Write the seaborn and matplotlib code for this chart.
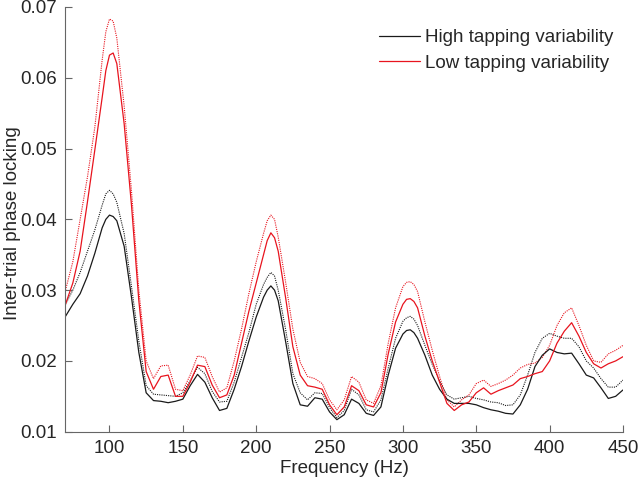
import numpy as np
import pandas as pd
import matplotlib
matplotlib.use("Agg")
import matplotlib.pyplot as plt
import seaborn as sns

freq = [70, 75, 80, 85, 90, 95, 97.5, 100, 102.5, 105, 110, 115,
        120, 125, 130, 135, 140, 145, 150, 155, 160, 165,
        170, 175, 180, 185, 190, 195, 200, 205, 207.5, 210, 212.5, 215,
        220, 225, 230, 235, 240, 245, 250, 255, 260, 265,
        270, 275, 280, 285, 290, 295, 300, 302.5, 305, 307.5, 310, 315,
        320, 325, 330, 335, 340, 345, 350, 355, 360, 365,
        370, 375, 380, 385, 390, 395, 400, 405, 410, 415,
        420, 425, 430, 435, 440, 445, 450]

high_solid = [0.0263, 0.0280, 0.0295, 0.0320, 0.0352, 0.0388, 0.0400, 0.0406, 0.0404, 0.0398, 0.0362, 0.0290,
              0.0212, 0.0155, 0.0144, 0.0143, 0.0141, 0.0143, 0.0146, 0.0165, 0.0181, 0.0170,
              0.0148, 0.0130, 0.0133, 0.0160, 0.0192, 0.0228, 0.0262, 0.0290, 0.0300, 0.0306, 0.0300, 0.0285,
              0.0228, 0.0168, 0.0138, 0.0136, 0.0148, 0.0146, 0.0128, 0.0117, 0.0124, 0.0146,
              0.0140, 0.0126, 0.0123, 0.0135, 0.0180, 0.0218, 0.0238, 0.0243, 0.0244, 0.0240, 0.0232, 0.0208,
              0.0180, 0.0160, 0.0146, 0.0140, 0.0140, 0.0140, 0.0138, 0.0134, 0.0131, 0.0129,
              0.0126, 0.0125, 0.0138, 0.0160, 0.0192, 0.0208, 0.0217, 0.0212, 0.0210, 0.0211,
              0.0196, 0.0180, 0.0176, 0.0162, 0.0147, 0.0150, 0.0159]

high_dotted = [0.0280, 0.0300, 0.0325, 0.0355, 0.0385, 0.0420, 0.0436, 0.0441, 0.0436, 0.0424, 0.0380, 0.0305,
               0.0228, 0.0165, 0.0153, 0.0152, 0.0151, 0.0150, 0.0155, 0.0172, 0.0191, 0.0182,
               0.0157, 0.0142, 0.0143, 0.0170, 0.0205, 0.0240, 0.0280, 0.0308, 0.0318, 0.0325, 0.0320, 0.0300,
               0.0245, 0.0182, 0.0155, 0.0145, 0.0155, 0.0154, 0.0134, 0.0120, 0.0130, 0.0160,
               0.0152, 0.0131, 0.0128, 0.0145, 0.0190, 0.0232, 0.0256, 0.0261, 0.0263, 0.0259, 0.0250, 0.0222,
               0.0195, 0.0172, 0.0152, 0.0146, 0.0148, 0.0150, 0.0147, 0.0145, 0.0142, 0.0141,
               0.0137, 0.0138, 0.0152, 0.0180, 0.0212, 0.0232, 0.0239, 0.0235, 0.0232, 0.0232,
               0.0220, 0.0200, 0.0190, 0.0175, 0.0163, 0.0163, 0.0173]

low_solid = [0.0280, 0.0310, 0.0355, 0.0425, 0.0498, 0.0572, 0.0610, 0.0632, 0.0635, 0.0620, 0.0535, 0.0420,
             0.0285, 0.0185, 0.0160, 0.0178, 0.0180, 0.0150, 0.0150, 0.0170, 0.0194, 0.0192,
             0.0166, 0.0148, 0.0152, 0.0180, 0.0225, 0.0270, 0.0310, 0.0350, 0.0370, 0.0381, 0.0374, 0.0355,
             0.0290, 0.0220, 0.0180, 0.0165, 0.0163, 0.0160, 0.0138, 0.0124, 0.0135, 0.0165,
             0.0158, 0.0138, 0.0135, 0.0155, 0.0210, 0.0255, 0.0280, 0.0287, 0.0288, 0.0284, 0.0275, 0.0235,
             0.0200, 0.0170, 0.0140, 0.0130, 0.0138, 0.0142, 0.0155, 0.0162, 0.0153, 0.0158,
             0.0162, 0.0166, 0.0175, 0.0178, 0.0182, 0.0185, 0.0200, 0.0225, 0.0242, 0.0254,
             0.0235, 0.0212, 0.0196, 0.0190, 0.0196, 0.0200, 0.0206]

low_dotted = [0.0300, 0.0340, 0.0400, 0.0460, 0.0530, 0.0625, 0.0665, 0.0683, 0.0680, 0.0656, 0.0560, 0.0440,
              0.0300, 0.0200, 0.0175, 0.0193, 0.0194, 0.0160, 0.0158, 0.0180, 0.0207, 0.0205,
              0.0178, 0.0156, 0.0162, 0.0200, 0.0245, 0.0295, 0.0340, 0.0380, 0.0398, 0.0406, 0.0400, 0.0375,
              0.0312, 0.0245, 0.0198, 0.0178, 0.0175, 0.0168, 0.0145, 0.0131, 0.0145, 0.0178,
              0.0170, 0.0145, 0.0140, 0.0165, 0.0225, 0.0275, 0.0305, 0.0311, 0.0312, 0.0308, 0.0298, 0.0255,
              0.0215, 0.0178, 0.0145, 0.0135, 0.0145, 0.0152, 0.0168, 0.0173, 0.0164, 0.0168,
              0.0173, 0.0180, 0.0190, 0.0195, 0.0197, 0.0205, 0.0222, 0.0250, 0.0268, 0.0275,
              0.0250, 0.0222, 0.0200, 0.0198, 0.0210, 0.0215, 0.0222]

x_ticks = [100, 150, 200, 250, 300, 350, 400, 450]
y_ticks = [0.01, 0.02, 0.03, 0.04, 0.05, 0.06, 0.07]
labels = ["High tapping variability", "Low tapping variability"]

sns.set_style("ticks")
plt.rcParams["font.family"] = ["Liberation Sans", "DejaVu Sans"]
plt.rcParams["xtick.direction"] = "in"
plt.rcParams["ytick.direction"] = "in"

BLACK = "#1a1a1a"
RED = "#e8141e"
FS = 13.5

fig = plt.figure(figsize=(6.4, 4.79), dpi=100)
ax = fig.add_axes([0.1023, 0.0987, 0.8711, 0.8867])

df = pd.DataFrame({"freq": freq, "hs": high_solid, "hd": high_dotted,
                   "ls": low_solid, "ld": low_dotted})

sns.lineplot(data=df, x="freq", y="hd", ax=ax, color=BLACK, lw=0.8, linestyle=(0, (1, 1)))
sns.lineplot(data=df, x="freq", y="ld", ax=ax, color=RED, lw=0.8, linestyle=(0, (1, 1)))
sns.lineplot(data=df, x="freq", y="hs", ax=ax, color=BLACK, lw=0.9, label=labels[0])
sns.lineplot(data=df, x="freq", y="ls", ax=ax, color=RED, lw=0.9, label=labels[1])

ax.set_xlim(70, 450)
ax.set_ylim(0.01, 0.07)
ax.set_xticks(x_ticks)
ax.set_yticks(y_ticks)
ax.set_yticklabels([f"{v:.2f}" for v in y_ticks])
ax.tick_params(axis="both", labelsize=FS, length=5, width=0.8, color="#666666", pad=6)
for s in ["top", "right"]:
    ax.spines[s].set_visible(False)
for s in ["left", "bottom"]:
    ax.spines[s].set_color("#666666")
    ax.spines[s].set_linewidth(0.8)

ax.set_xlabel("Frequency (Hz)", fontsize=FS, labelpad=2)
ax.set_ylabel("Inter-trial phase locking", fontsize=FS)
ax.yaxis.set_label_coords(-0.08, 0.49)

leg = ax.legend(loc="upper left", bbox_to_anchor=(370 / 640, 1 - 20 / 479),
                bbox_transform=fig.transFigure, frameon=False, fontsize=FS,
                handlelength=2.15, handletextpad=0.3, borderpad=0, labelspacing=0.42)

fig.savefig("out.png", dpi=100)
